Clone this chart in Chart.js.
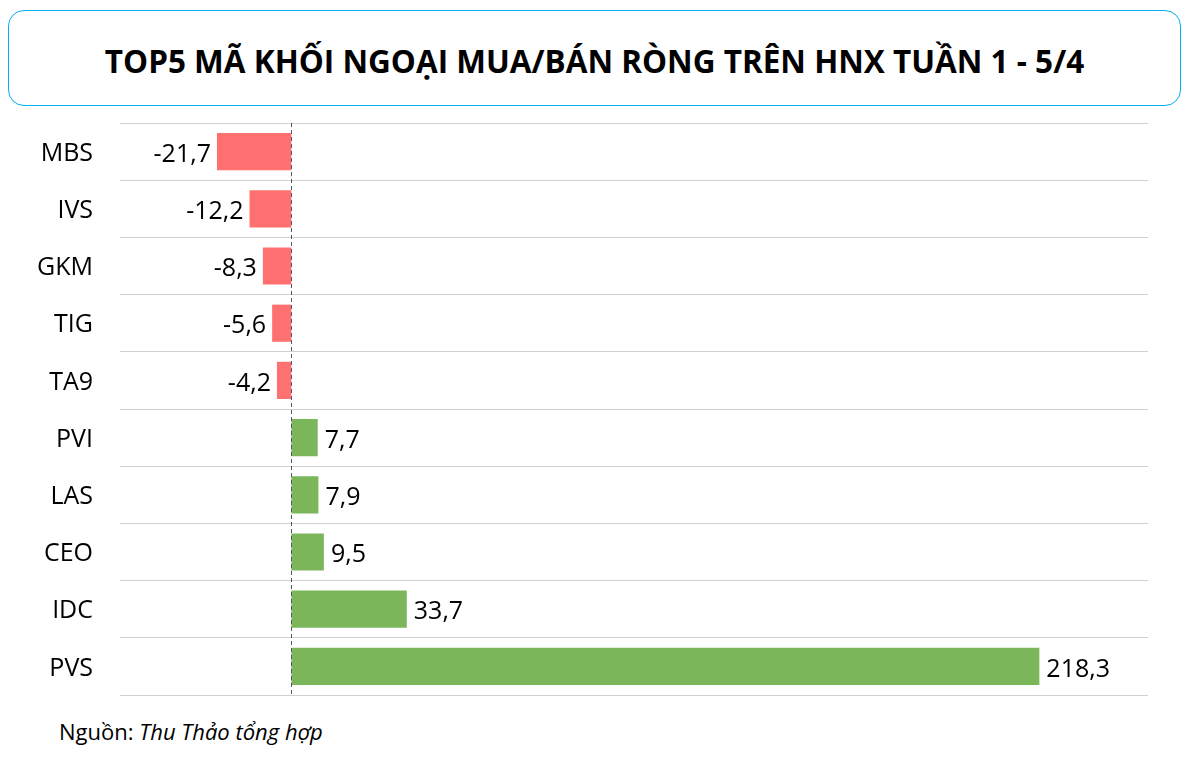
<!DOCTYPE html>
<html>
<head>
<meta charset="utf-8">
<script src="https://cdn.jsdelivr.net/npm/chart.js@4"></script>
<style>
  body{margin:0;background:#fff;font-family:"Open Sans",sans-serif;}
  #tieude{
    position:absolute;left:8px;top:10px;width:1173px;height:96px;
    border:1.5px solid #00b0f0;border-radius:16px;
    display:flex;align-items:center;justify-content:center;
    font-weight:bold;font-size:31.5px;color:#000;padding-top:4px;box-sizing:border-box;
  }
  #bieuDo{position:absolute;left:0;top:119px;}
  #nguon{position:absolute;left:59px;top:720px;font-size:22px;line-height:22px;color:#000;}
</style>
</head>
<body>
<div id="tieude">TOP5 MÃ KHỐI NGOẠI MUA/BÁN RÒNG TRÊN HNX TUẦN 1 - 5/4</div>
<canvas id="bieuDo" width="1189" height="580"></canvas>
<div id="nguon">Nguồn: <i>Thu Thảo tổng hợp</i></div>
<script>
/* =========================
   DATA
========================= */
const maCK = ['MBS','IVS','GKM','TIG','TA9','PVI','LAS','CEO','IDC','PVS'];
const giaTriRong = [-21.7, -12.2, -8.3, -5.6, -4.2, 7.7, 7.9, 9.5, 33.7, 218.3];
const gioiHanX = [-50, 250];

const mauBan = '#ff7171';
const mauMua = '#7cb65a';

/* =========================
   PLUGIN: nhan so + truc 0
========================= */
const nhanSo = {
  id: 'nhanSo',
  afterDatasetsDraw(chart){
    const c = chart.ctx;
    const xs = chart.scales.x;
    const area = chart.chartArea;
    // duong so 0 net dut
    const x0 = Math.round(xs.getPixelForValue(0)) + 0.5;
    c.save();
    c.strokeStyle = '#505a66';
    c.lineWidth = 1;
    c.setLineDash([4,3]);
    c.beginPath();
    c.moveTo(x0, area.top);
    c.lineTo(x0, area.bottom);
    c.stroke();
    c.setLineDash([]);

    c.font = '25px "Open Sans"';
    c.fillStyle = '#000';
    c.textBaseline = 'middle';
    chart.getDatasetMeta(0).data.forEach((bar, i) => {
      const v = giaTriRong[i];
      const txt = v.toFixed(1).replace('.', ',');
      if(v < 0){
        c.textAlign = 'right';
        c.fillText(txt, bar.x - 6, bar.y + 3);
      } else {
        c.textAlign = 'left';
        c.fillText(txt, bar.x + 7, bar.y + 3);
      }
    });
    c.restore();
  }
};

new Chart(document.getElementById('bieuDo'), {
  type: 'bar',
  data: {
    labels: maCK,
    datasets: [{
      data: giaTriRong,
      backgroundColor: giaTriRong.map(v => v < 0 ? mauBan : mauMua),
      borderWidth: 0,
      barPercentage: 0.65,
      categoryPercentage: 1
    }]
  },
  options: {
    indexAxis: 'y',
    responsive: false,
    animation: false,
    layout: { padding: { top: 4, bottom: 4, right: 41, left: 0 } },
    plugins: {
      legend: { display: false },
      tooltip: { enabled: false }
    },
    scales: {
      x: {
        min: gioiHanX[0],
        max: gioiHanX[1],
        display: false
      },
      y: {
        grid: { color: '#d0d0d0', lineWidth: 1, drawTicks: false, offset: true },
        border: { display: false },
        ticks: {
          color: '#000',
          padding: 27,
          labelOffset: 2,
          font: { family: 'Open Sans', size: 25 }
        },
        afterFit(scale){
          scale.width = 120;
          scale.paddingTop = 0;
          scale.paddingBottom = 0;
        }
      }
    }
  },
  plugins: [nhanSo]
});
</script>
</body>
</html>
